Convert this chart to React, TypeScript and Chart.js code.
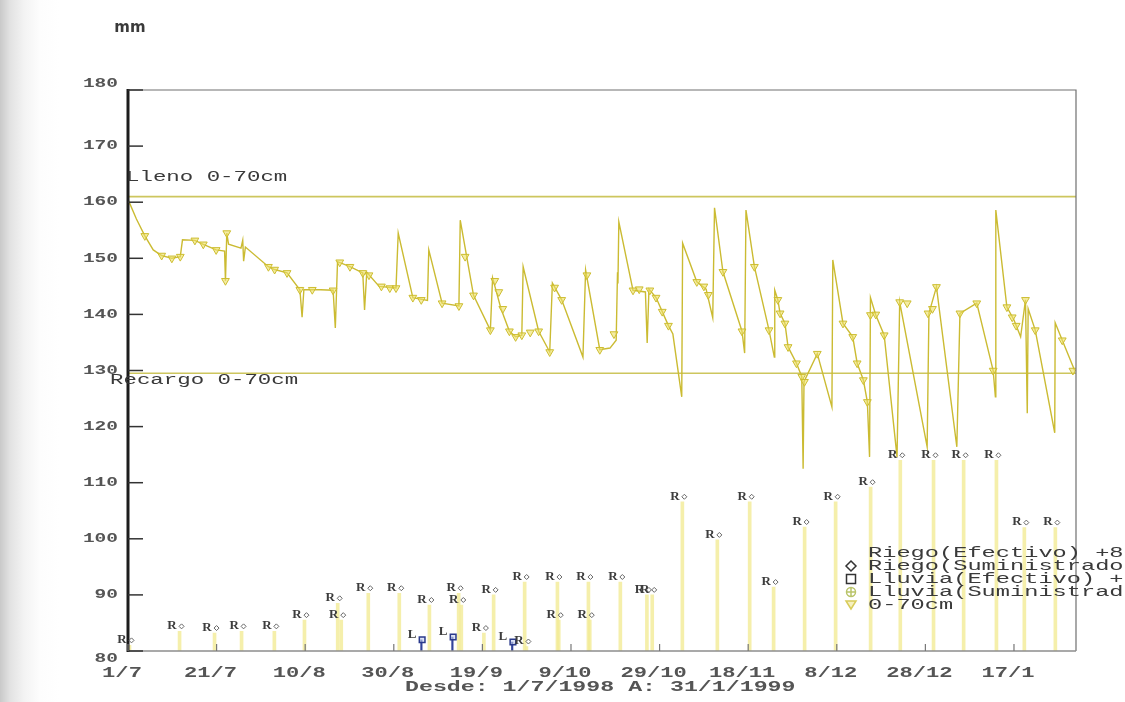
import React, { useEffect, useRef } from "react";
import { Chart, registerables } from "chart.js";

Chart.register(...registerables);

// ---- axis definitions ----
const xTickDays = [0, 20, 40, 60, 80, 100, 120, 140, 160, 180, 200];
const xTickLabels = ["1/7", "21/7", "10/8", "30/8", "19/9", "9/10", "29/10", "18/11", "8/12", "28/12", "17/1"];
const yTickValues = [80, 90, 100, 110, 120, 130, 140, 150, 160, 170, 180];
const xDayMax = 214; // 31/1/1999
const rangeText = "Desde: 1/7/1998 A: 31/1/1999";
const unitText = "mm";

// ---- reference levels ----
const llenoLevel = 161;
const recargoLevel = 129.5;
const llenoText = "Lleno 0-70cm";
const recargoText = "Recargo 0-70cm";

// ---- 0-70cm water content (line) ----
const lineDays = [
  0, 1.9, 3.8, 5.7, 7.6, 9.9, 11.8, 12.3, 15.1, 17.0, 19.9, 21.8, 22.0, 22.3, 22.7, 25.5, 25.9, 26.1, 26.5,
  31.7, 33.1, 35.9, 38.8, 39.3, 39.7, 43.5, 46.3, 46.8, 47.3, 50.1, 53.0, 53.4, 53.9, 56.7, 60.5, 61.0,
  64.3, 67.6, 67.9, 70.9, 74.7, 75.0, 78.0, 81.8, 82.3, 84.2, 86.1, 87.5, 88.9, 89.2, 92.7, 95.2, 95.8,
  97.9, 102.7, 103.3, 106.5, 108.8, 110.2, 110.5, 110.6, 110.8, 114.0, 116.8, 117.2, 117.6, 119.2, 120.6,
  122.0, 123.0, 125.0, 125.2, 128.4, 130.5, 132.0, 132.4, 134.3, 138.6, 139.2, 139.5, 141.4, 144.7, 145.9,
  146.0, 146.7, 147.2, 148.3, 149.0, 150.9, 152.1, 152.4, 152.6, 155.6, 158.9, 159.1, 161.4, 163.6, 164.6,
  166.0, 166.9, 167.4, 167.6, 168.8, 170.7, 173.6, 174.2, 180.4, 180.8, 182.5, 187.1, 187.8, 191.6, 195.3,
  195.8, 195.9, 198.4, 200.0, 201.5, 202.6, 203.0, 203.2, 204.8, 209.2, 209.3, 210.9, 213.7,
];
const lineValues = [
  160.5, 157, 154, 151.5, 150.5, 150, 150.3, 153.3, 153.2, 152.5, 151.5, 151.3, 146, 154.5, 152.5, 151.8, 153.2, 149.5, 152,
  148.5, 148, 147.4, 144.4, 139.5, 144.4, 144.4, 144.3, 137.6, 149.4, 148.5, 147.4, 140.8, 147.5, 145, 144.7, 154.5,
  143, 142.5, 151.5, 142, 141.5, 156.8, 143.4, 137.2, 146.5, 141, 137, 136, 136.3, 148.5, 137, 133.3, 145.6,
  142.6, 132.4, 147.9, 133.7, 134, 135.4, 147.5, 145.5, 156.5, 144.3, 144, 134.9, 144.5, 143, 140.5,
  138, 136.5, 125.3, 152.7, 145.8, 144.5, 139.4, 159, 147.6, 137, 133.1, 158.6, 148.5, 137.2, 132.4,
  144.3, 142.6, 140.2, 138.4, 134.2, 131.3, 128.9, 112.5, 128, 133, 123.5, 149.7, 138.4, 136, 131.3,
  128.3, 124.4, 114.6, 143, 139.9, 136.3, 114.6, 142.2, 116.4, 140.2, 144.9, 116.4, 140.2, 142, 130,
  125.3, 158.6, 141.3, 139, 136, 142.6, 122.4, 141, 137.2, 118.9, 138.5, 135.4, 130,
];

// ---- measured points (triangles) ----
const markDays = [
  3.8, 7.6, 9.9, 11.8, 15.1, 17.0, 19.9, 22.0, 22.3, 31.7, 33.1, 35.9, 38.8, 41.6, 46.3, 47.8, 50.1, 53.0,
  54.4, 57.2, 59.1, 60.5, 64.3, 66.2, 70.9, 74.7, 76.1, 78.0, 81.8, 82.8, 83.7, 84.6, 86.1, 87.5, 88.9, 90.8,
  92.7, 95.2, 96.3, 97.9, 103.6, 106.5, 109.7, 114.0, 115.4, 117.8, 119.2, 120.6, 122.0, 128.4, 130.0, 131.0,
  134.3, 138.6, 141.4, 144.7, 146.7, 147.2, 148.3, 149.0, 150.9, 152.1, 152.7, 155.6, 161.4, 163.6, 164.6,
  166.0, 166.9, 167.6, 168.8, 170.7, 174.2, 175.9, 180.6, 181.6, 182.5, 187.8, 191.6, 195.3, 198.4, 199.6,
  200.5, 202.6, 204.8, 210.9, 213.3,
];
const markValues = [
  154, 150.5, 150, 150.3, 153.2, 152.5, 151.5, 146, 154.5, 148.5, 148, 147.4, 144.4, 144.4, 144.3, 149.3, 148.5, 147.4,
  147, 145, 144.7, 144.7, 143, 142.6, 142, 141.5, 150.3, 143.4, 137.2, 146, 144, 141, 137, 136, 136.3, 136.8,
  137, 133.3, 144.8, 142.6, 147, 133.7, 136.5, 144.3, 144.5, 144.3, 143, 140.5, 138, 145.8, 145, 143.5,
  147.6, 137, 148.5, 137.2, 142.6, 140.2, 138.4, 134.2, 131.3, 128.9, 128, 133, 138.4, 136, 131.3,
  128.3, 124.4, 139.9, 140, 136.3, 142.2, 142, 140.2, 141, 144.9, 140.2, 142, 130, 141.3, 139.5,
  138, 142.6, 137.2, 135.4, 130,
];

// ---- Riego (Efectivo) +80 ----
const riegoDays = [
  0, 11.3, 19.2, 25.3, 32.7, 39.5, 47.0, 47.8, 53.9, 60.9, 67.7, 74.3, 74.9, 80.0, 82.2, 89.2, 89.6, 96.6, 96.9,
  103.6, 103.9, 110.8, 116.8, 118.0, 124.8, 132.7, 140.0, 145.4, 152.4, 159.4, 167.3, 174.0, 181.5, 188.3, 195.7,
  202.0, 209.0,
];
const riegoValues = [
  81, 83.5, 83.2, 83.5, 83.5, 85.5, 88.5, 85.5, 90.3, 90.3, 88.2, 90.3, 88.2, 83.2, 90.0, 92.3, 80.8, 92.3, 85.5,
  92.3, 85.5, 92.3, 90.0, 90.0, 106.6, 99.8, 106.6, 91.4, 102.1, 106.6, 109.2, 114.0, 114.0, 114.0, 114.0,
  102.0, 102.0,
];

// ---- Lluvia (Efectivo) +80 ----
const lluviaDays = [66.4, 73.4, 86.9];
const lluviaValues = [82, 82.5, 81.6];

// ---- legend ----
const legendLabels = [
  "Riego(Efectivo) +80",
  "Riego(Suministrado)",
  "Lluvia(Efectivo) +80",
  "Lluvia(Suministrado)",
  "0-70cm",
];

const pts = (xs: number[], ys: number[]) => xs.map((x, i) => ({ x, y: ys[i] }));

function stretchText(
  ctx: CanvasRenderingContext2D,
  text: string,
  x: number,
  y: number,
  font: string,
  sx: number,
  color: string,
  align: "left" | "center" | "right" = "left"
) {
  ctx.save();
  ctx.font = font;
  ctx.fillStyle = color;
  ctx.textBaseline = "middle";
  ctx.textAlign = "left";
  const w = ctx.measureText(text).width * sx;
  const left = align === "center" ? x - w / 2 : align === "right" ? x - w : x;
  ctx.translate(left, y);
  ctx.scale(sx, 1);
  ctx.fillText(text, 0, 0);
  ctx.restore();
}

const decorPlugin = {
  id: "decor",
  afterDatasetsDraw(chart: any) {
    const { ctx, chartArea: a, scales } = chart;
    const xs = scales.x;
    const ys = scales.y;
    ctx.save();
    // frame
    ctx.strokeStyle = "#707070";
    ctx.lineWidth = 1.2;
    ctx.beginPath();
    ctx.moveTo(a.left, a.top);
    ctx.lineTo(a.right, a.top);
    ctx.lineTo(a.right, a.bottom);
    ctx.stroke();
    ctx.strokeStyle = "#8c8c8c";
    ctx.lineWidth = 1.6;
    ctx.beginPath();
    ctx.moveTo(a.left, a.bottom);
    ctx.lineTo(a.right, a.bottom);
    ctx.stroke();
    ctx.strokeStyle = "#1c1c1c";
    ctx.lineWidth = 3;
    ctx.beginPath();
    ctx.moveTo(a.left, a.top - 1);
    ctx.lineTo(a.left, a.bottom + 1);
    ctx.stroke();
    // y ticks
    ctx.strokeStyle = "#333";
    ctx.lineWidth = 1.5;
    yTickValues.forEach((v) => {
      const py = ys.getPixelForValue(v);
      ctx.beginPath();
      ctx.moveTo(a.left, py);
      ctx.lineTo(a.left + 15, py);
      ctx.stroke();
    });
    // x ticks
    ctx.strokeStyle = "#777";
    ctx.lineWidth = 1.2;
    xTickDays.forEach((d) => {
      const px = xs.getPixelForValue(d);
      ctx.beginPath();
      ctx.moveTo(px, a.bottom);
      ctx.lineTo(px, a.bottom - 7);
      ctx.stroke();
    });
    ctx.restore();

    const axisFont = 'bold 13px "Liberation Mono"';
    // y labels
    yTickValues.forEach((v, i) => {
      let py = ys.getPixelForValue(v);
      if (i === 0) py += 8;
      if (i === yTickValues.length - 1) py -= 6;
      stretchText(ctx, String(v), a.left - 10, py, axisFont, 1.5, "#555", "right");
    });
    // x labels
    xTickDays.forEach((d, i) => {
      const px = xs.getPixelForValue(d) - 6;
      stretchText(ctx, xTickLabels[i], px, a.bottom + 22, 'bold 14px "Liberation Mono"', 1.58, "#555", "center");
    });
    stretchText(ctx, rangeText, 405, a.bottom + 36, 'bold 14px "Liberation Mono"', 1.66, "#555", "left");
    // unit
    ctx.save();
    ctx.font = 'bold 15px "DejaVu Sans"';
    ctx.fillStyle = "#3a3a3a";
    ctx.textAlign = "center";
    ctx.textBaseline = "middle";
    ctx.fillText(unitText, 130, 28);
    ctx.restore();

    // level labels
    stretchText(ctx, llenoText, a.left - 2, ys.getPixelForValue(llenoLevel) - 19, '14px "Liberation Mono"', 1.6, "#3a3a3a", "left");
    stretchText(ctx, recargoText, 110, ys.getPixelForValue(recargoLevel) + 7, '14px "Liberation Mono"', 1.6, "#3a3a3a", "left");

    // R labels for irrigation
    ctx.save();
    riegoDays.forEach((d, i) => {
      const px = xs.getPixelForValue(d);
      const py = ys.getPixelForValue(riegoValues[i]);
      ctx.font = 'bold 13px "Liberation Serif"';
      ctx.fillStyle = "#3d3d3d";
      ctx.textAlign = "center";
      ctx.textBaseline = "bottom";
      ctx.fillText("R", px - 6, py + 1);
      ctx.strokeStyle = "#666";
      ctx.lineWidth = 1;
      ctx.beginPath();
      ctx.moveTo(px + 1, py - 5);
      ctx.lineTo(px + 3.5, py - 7.5);
      ctx.lineTo(px + 6, py - 5);
      ctx.lineTo(px + 3.5, py - 2.5);
      ctx.closePath();
      ctx.stroke();
    });
    // L labels for rain
    lluviaDays.forEach((d, i) => {
      const px = xs.getPixelForValue(d);
      const py = ys.getPixelForValue(lluviaValues[i]);
      ctx.font = 'bold 13px "Liberation Serif"';
      ctx.fillStyle = "#3d3d3d";
      ctx.textAlign = "center";
      ctx.textBaseline = "bottom";
      ctx.fillText("L", px - 10, py + 1);
    });
    ctx.restore();

    // legend
    const lx = 851;
    const tx = 868;
    const rows = [553, 566, 579, 592, 605];
    const legFont = '14px "Liberation Mono"';
    legendLabels.forEach((t, i) => {
      stretchText(ctx, t, tx, rows[i], legFont, 1.69, "#3a3a3a", "left");
    });
    ctx.save();
    ctx.lineWidth = 1.5;
    // diamond
    ctx.strokeStyle = "#333";
    ctx.beginPath();
    ctx.moveTo(lx, rows[1] - 5);
    ctx.lineTo(lx + 5, rows[1]);
    ctx.lineTo(lx, rows[1] + 5);
    ctx.lineTo(lx - 5, rows[1]);
    ctx.closePath();
    ctx.stroke();
    // square
    ctx.strokeRect(lx - 4.5, rows[2] - 4.5, 9, 9);
    // circle with cross
    ctx.strokeStyle = "#b9c46a";
    ctx.beginPath();
    ctx.arc(lx, rows[3], 4.5, 0, Math.PI * 2);
    ctx.moveTo(lx - 4.5, rows[3]);
    ctx.lineTo(lx + 4.5, rows[3]);
    ctx.moveTo(lx, rows[3] - 4.5);
    ctx.lineTo(lx, rows[3] + 4.5);
    ctx.stroke();
    // down triangle
    ctx.strokeStyle = "#d8cc5a";
    ctx.fillStyle = "rgba(240,232,150,0.6)";
    ctx.beginPath();
    ctx.moveTo(lx - 5, rows[4] - 4);
    ctx.lineTo(lx + 5, rows[4] - 4);
    ctx.lineTo(lx, rows[4] + 4);
    ctx.closePath();
    ctx.fill();
    ctx.stroke();
    ctx.restore();
  },
};

export default function App() {
  const ref = useRef<HTMLCanvasElement>(null);
  useEffect(() => {
    const canvas = ref.current;
    if (!canvas) return;
    const chart = new Chart(canvas, {
      type: "line",
      data: {
        datasets: [
          {
            label: "Lleno",
            data: [
              { x: 0, y: llenoLevel },
              { x: xDayMax, y: llenoLevel },
            ],
            borderColor: "#cdc65e",
            borderWidth: 1.6,
            pointRadius: 0,
            order: 5,
          },
          {
            label: "Recargo",
            data: [
              { x: 0, y: recargoLevel },
              { x: xDayMax, y: recargoLevel },
            ],
            borderColor: "#cdc65e",
            borderWidth: 1.6,
            pointRadius: 0,
            order: 5,
          },
          {
            label: "0-70cm",
            data: pts(lineDays, lineValues),
            borderColor: "#cbbb32",
            borderWidth: 1.4,
            pointRadius: 0,
            tension: 0,
            order: 2,
          },
          {
            label: "0-70cm medido",
            data: pts(markDays, markValues),
            showLine: false,
            pointStyle: "triangle",
            rotation: 180,
            pointRadius: 4.5,
            borderWidth: 1,
            pointBorderColor: "#cdbd30",
            pointBackgroundColor: "rgba(236,224,100,0.6)",
            order: 1,
          },
          {
            type: "bar",
            label: "Riego(Efectivo)",
            data: pts(riegoDays, riegoValues),
            backgroundColor: "rgba(242,235,150,0.8)",
            barThickness: 3,
            order: 10,
          } as any,
          {
            type: "bar",
            label: "Lluvia(Efectivo)",
            data: pts(lluviaDays, lluviaValues),
            backgroundColor: "#33449a",
            barThickness: 1.5,
            order: 3,
          } as any,
          {
            label: "Lluvia marca",
            data: pts(lluviaDays, lluviaValues),
            showLine: false,
            pointStyle: "rect",
            pointRadius: 4,
            borderWidth: 1.5,
            pointBorderColor: "#2a3a8c",
            pointBackgroundColor: "rgba(200,210,240,0.6)",
            order: 1,
          },
        ],
      },
      options: {
        animation: false,
        responsive: false,
        devicePixelRatio: 1,
        layout: { padding: { left: 128, right: 49, top: 90, bottom: 51 } },
        plugins: { legend: { display: false }, tooltip: { enabled: false } },
        scales: {
          x: { type: "linear", min: 0, max: xDayMax, display: false, offset: false },
          y: { type: "linear", min: 80, max: 180, display: false },
        },
      },
      plugins: [decorPlugin],
    });
    return () => chart.destroy();
  }, []);

  return (
    <div
      style={{
        position: "fixed",
        left: 0,
        top: 0,
        width: 1125,
        height: 702,
        background:
          "linear-gradient(to right, #c9c9c9 0px, #e2e2e2 10px, #f3f3f3 24px, #fdfdfd 40px, #ffffff 60px)",
        overflow: "hidden",
      }}
    >
      <canvas ref={ref} width={1125} height={702} style={{ display: "block", width: 1125, height: 702 }} />
    </div>
  );
}
